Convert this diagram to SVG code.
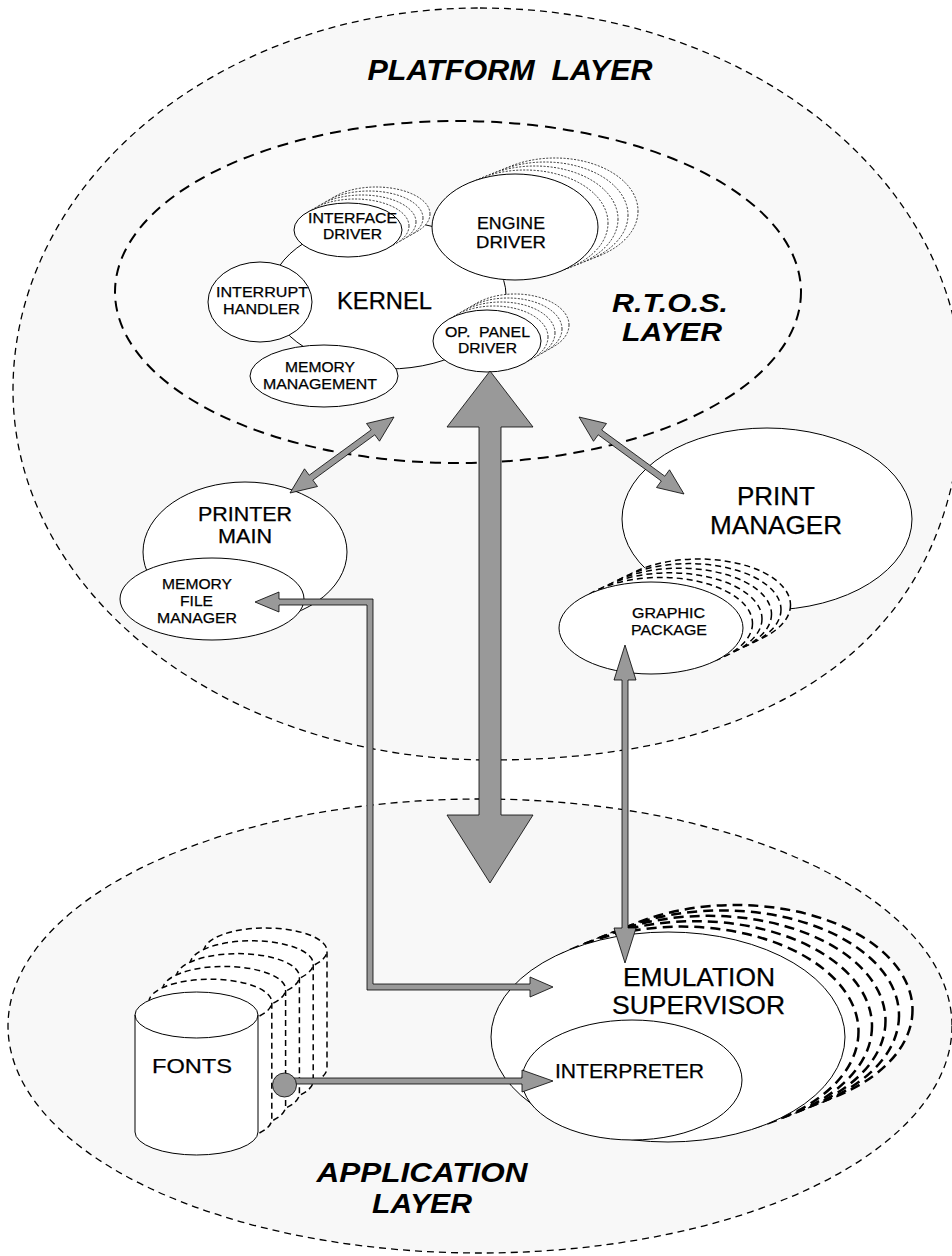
<svg xmlns="http://www.w3.org/2000/svg" width="952" height="1256" viewBox="0 0 952 1256">
<style>
.layer{fill:#f8f8f8;stroke:#000;stroke-width:1.3;stroke-dasharray:7 5}
.rtos{fill:#fafafa;stroke:#000;stroke-width:2;stroke-dasharray:11 7}
.node{fill:#fff;stroke:#000;stroke-width:1}
.dot{fill:#fff;stroke:#000;stroke-width:0.8;stroke-dasharray:2 1.5}
.dash{fill:#fff;stroke:#000;stroke-width:1.5;stroke-dasharray:6 4}
.dashb{fill:#fff;stroke:#000;stroke-width:2.5;stroke-dasharray:10 6}
.dashn{fill:none;stroke:#000;stroke-width:1.5;stroke-dasharray:6 4}
.pipe{fill:#999;stroke:#000;stroke-width:0.8;stroke-linejoin:miter}
.t{font-family:"Liberation Sans",Arial,Helvetica,sans-serif;fill:#000;stroke:#000;stroke-width:0.25;text-anchor:middle}
.lbl{font-family:"Liberation Sans",Arial,Helvetica,sans-serif;font-weight:bold;font-style:italic;fill:#000;text-anchor:middle}
</style>
<rect width="952" height="1256" fill="#fff"/>

<g id="platform-layer">
<path class="layer" d="M480,8 C746.2,8 962,179 962,390 C962,626.8 792,760 490,760 C226.6,760 13,594.3 13,390 C13,179 222.1,8 480,8 Z"/>
<text class="lbl" x="510" y="80" font-size="30" textLength="285" lengthAdjust="spacingAndGlyphs" xml:space="preserve">PLATFORM  LAYER</text>
</g>

<g id="application-layer">
<ellipse class="layer" cx="480" cy="1026" rx="472" ry="227"/>
<text class="lbl" x="422" y="1182" font-size="27.5" textLength="211" lengthAdjust="spacingAndGlyphs">APPLICATION</text>
<text class="lbl" x="422" y="1213" font-size="27.5" textLength="100" lengthAdjust="spacingAndGlyphs">LAYER</text>
</g>

<g id="rtos-layer">
<ellipse class="rtos" cx="458" cy="292" rx="343" ry="171"/>
<text class="lbl" x="670" y="312" font-size="26" textLength="116" lengthAdjust="spacingAndGlyphs">R.T.O.S.</text>
<text class="lbl" x="672" y="341" font-size="26" textLength="100" lengthAdjust="spacingAndGlyphs">LAYER</text>
</g>

<g id="kernel">
<ellipse class="node" cx="388" cy="295" rx="118" ry="74"/>
<text class="t" x="384.5" y="309" font-size="23" textLength="95" lengthAdjust="spacingAndGlyphs">KERNEL</text>
</g>

<g id="interface-driver">
<ellipse class="dot" cx="376" cy="214" rx="54" ry="27"/>
<ellipse class="dot" cx="369" cy="218" rx="54" ry="27"/>
<ellipse class="dot" cx="362" cy="222" rx="54" ry="27"/>
<ellipse class="dot" cx="355" cy="226" rx="54" ry="27"/>
<ellipse class="node" cx="348" cy="230" rx="54" ry="27"/>
<text class="t" x="352.5" y="223" font-size="13.8" textLength="89" lengthAdjust="spacingAndGlyphs">INTERFACE</text>
<text class="t" x="352.5" y="238.5" font-size="13.8" textLength="59" lengthAdjust="spacingAndGlyphs">DRIVER</text>
</g>

<g id="engine-driver">
<ellipse class="dot" cx="555" cy="211" rx="83" ry="53"/>
<ellipse class="dot" cx="545" cy="215" rx="83" ry="53"/>
<ellipse class="dot" cx="535" cy="219" rx="83" ry="53"/>
<ellipse class="dot" cx="525" cy="223" rx="83" ry="53"/>
<ellipse class="node" cx="515" cy="227" rx="83" ry="53"/>
<text class="t" x="511" y="229" font-size="17" textLength="68" lengthAdjust="spacingAndGlyphs">ENGINE</text>
<text class="t" x="511" y="248" font-size="17" textLength="70" lengthAdjust="spacingAndGlyphs">DRIVER</text>
</g>

<g id="interrupt-handler">
<ellipse class="node" cx="260" cy="302" rx="52" ry="40"/>
<text class="t" x="262" y="297" font-size="15" textLength="92" lengthAdjust="spacingAndGlyphs">INTERRUPT</text>
<text class="t" x="261.5" y="314" font-size="15" textLength="77" lengthAdjust="spacingAndGlyphs">HANDLER</text>
</g>

<g id="memory-management">
<ellipse class="node" cx="324" cy="376" rx="74" ry="31"/>
<text class="t" x="320" y="372" font-size="15" textLength="70" lengthAdjust="spacingAndGlyphs">MEMORY</text>
<text class="t" x="320" y="389" font-size="15" textLength="114" lengthAdjust="spacingAndGlyphs">MANAGEMENT</text>
</g>

<g id="op-panel-driver">
<ellipse class="dot" cx="515" cy="325" rx="54" ry="31"/>
<ellipse class="dot" cx="508" cy="329" rx="54" ry="31"/>
<ellipse class="dot" cx="501" cy="333" rx="54" ry="31"/>
<ellipse class="dot" cx="494" cy="337" rx="54" ry="31"/>
<ellipse class="node" cx="487" cy="341" rx="54" ry="31"/>
<text class="t" x="487.5" y="337" font-size="14" textLength="85" lengthAdjust="spacingAndGlyphs" xml:space="preserve">OP.  PANEL</text>
<text class="t" x="487.5" y="353" font-size="14" textLength="59" lengthAdjust="spacingAndGlyphs">DRIVER</text>
</g>

<g id="printer-main">
<ellipse class="node" cx="245" cy="552" rx="102" ry="70"/>
<text class="t" x="245" y="521" font-size="19.5" textLength="94" lengthAdjust="spacingAndGlyphs">PRINTER</text>
<text class="t" x="245" y="543" font-size="19.5" textLength="54" lengthAdjust="spacingAndGlyphs">MAIN</text>
</g>

<g id="memory-file-manager">
<ellipse class="node" cx="212" cy="599" rx="92" ry="41"/>
<text class="t" x="197" y="589" font-size="15" textLength="70" lengthAdjust="spacingAndGlyphs">MEMORY</text>
<text class="t" x="196.5" y="606" font-size="15" textLength="33" lengthAdjust="spacingAndGlyphs">FILE</text>
<text class="t" x="197" y="623" font-size="15" textLength="80" lengthAdjust="spacingAndGlyphs">MANAGER</text>
</g>

<g id="print-manager">
<ellipse class="node" cx="767" cy="519" rx="145" ry="91" stroke-width="1.3"/>
<text class="t" x="776" y="505" font-size="26" textLength="78" lengthAdjust="spacingAndGlyphs">PRINT</text>
<text class="t" x="776" y="534" font-size="26" textLength="132" lengthAdjust="spacingAndGlyphs">MANAGER</text>
</g>

<g id="graphic-package">
<ellipse class="dash" cx="698.5" cy="605" rx="92" ry="46"/>
<ellipse class="dash" cx="689" cy="609.6" rx="92" ry="46"/>
<ellipse class="dash" cx="679.5" cy="614.2" rx="92" ry="46"/>
<ellipse class="dash" cx="670" cy="618.8" rx="92" ry="46"/>
<ellipse class="dash" cx="660.5" cy="623.4" rx="92" ry="46"/>
<ellipse class="node" cx="651" cy="628" rx="92" ry="46"/>
<text class="t" x="668.5" y="618" font-size="15" textLength="73" lengthAdjust="spacingAndGlyphs">GRAPHIC</text>
<text class="t" x="669" y="635" font-size="15" textLength="76" lengthAdjust="spacingAndGlyphs">PACKAGE</text>
</g>

<g id="emulation-supervisor">
<ellipse class="dashb" cx="735.5" cy="1010" rx="177" ry="105"/>
<ellipse class="dashb" cx="722" cy="1015.4" rx="177" ry="105"/>
<ellipse class="dashb" cx="708.5" cy="1020.8" rx="177" ry="105"/>
<ellipse class="dashb" cx="695" cy="1026.2" rx="177" ry="105"/>
<ellipse class="dashb" cx="681.5" cy="1031.6" rx="177" ry="105"/>
<ellipse class="node" cx="668" cy="1037" rx="177" ry="105" stroke-width="1.5"/>
<text class="t" x="699" y="986" font-size="25" textLength="152" lengthAdjust="spacingAndGlyphs">EMULATION</text>
<text class="t" x="698.5" y="1014" font-size="25" textLength="173" lengthAdjust="spacingAndGlyphs">SUPERVISOR</text>
</g>

<g id="interpreter">
<ellipse class="node" cx="632" cy="1080" rx="110" ry="60" stroke-width="1.3"/>
<text class="t" x="629.5" y="1078" font-size="21" textLength="149" lengthAdjust="spacingAndGlyphs">INTERPRETER</text>
</g>

<g id="fonts">
<path class="dash" d="M204,951 A61.5,23 0 0 1 327,951 L327,1068 A61.5,23 0 0 1 204,1068 Z"/>
<path class="dashn" d="M204,951 A61.5,23 0 0 0 327,951"/>
<path class="dash" d="M190.2,963.8 A61.5,23 0 0 1 313.2,963.8 L313.2,1080.8 A61.5,23 0 0 1 190.2,1080.8 Z"/>
<path class="dashn" d="M190.2,963.8 A61.5,23 0 0 0 313.2,963.8"/>
<path class="dash" d="M176.4,976.6 A61.5,23 0 0 1 299.4,976.6 L299.4,1093.6 A61.5,23 0 0 1 176.4,1093.6 Z"/>
<path class="dashn" d="M176.4,976.6 A61.5,23 0 0 0 299.4,976.6"/>
<path class="dash" d="M162.6,989.4 A61.5,23 0 0 1 285.6,989.4 L285.6,1106.4 A61.5,23 0 0 1 162.6,1106.4 Z"/>
<path class="dashn" d="M162.6,989.4 A61.5,23 0 0 0 285.6,989.4"/>
<path class="dash" d="M148.8,1002.2 A61.5,23 0 0 1 271.8,1002.2 L271.8,1119.2 A61.5,23 0 0 1 148.8,1119.2 Z"/>
<path class="dashn" d="M148.8,1002.2 A61.5,23 0 0 0 271.8,1002.2"/>
<path class="node" d="M135,1015 A61.5,23 0 0 1 258,1015 L258,1132 A61.5,23 0 0 1 135,1132 Z"/>
<path d="M135,1015 A61.5,23 0 0 0 258,1015" fill="none" stroke="#000" stroke-width="1"/>
<text class="t" x="192" y="1073" font-size="21" textLength="80" lengthAdjust="spacingAndGlyphs">FONTS</text>
</g>

<g id="connectors">
<polygon class="pipe" points="394,417 379.5,441.2 374.8,434.8 312.8,480.1 317.5,486.5 290,493 304.5,468.8 309.2,475.2 371.2,429.9 366.5,423.5"/>
<polygon class="pipe" points="579,417 606.5,423.5 601.7,430 664.8,476.2 669.5,469.8 684,494 656.5,487.5 661.3,481 598.2,434.8 593.5,441.3"/>
<polygon class="pipe" points="490,371 533,427 501,427 501,815 533,815 490,883 447,815 479,815 479,427 447,427"/>
<polygon class="pipe" points="255,602 279,592 279,599 373,599 373,984 530,984 530,977 553,987 530,997 530,990 367,990 367,605 279,605 279,612"/>
<polygon class="pipe" points="625,645 636,680 628,680 628,928 636,928 625,963 614,928 622,928 622,680 614,680"/>
<polygon class="pipe" points="290,1078 522,1078 522,1070 553,1081 522,1092 522,1084 290,1084"/>
<circle class="pipe" cx="284.5" cy="1085" r="12"/>
</g>
</svg>
